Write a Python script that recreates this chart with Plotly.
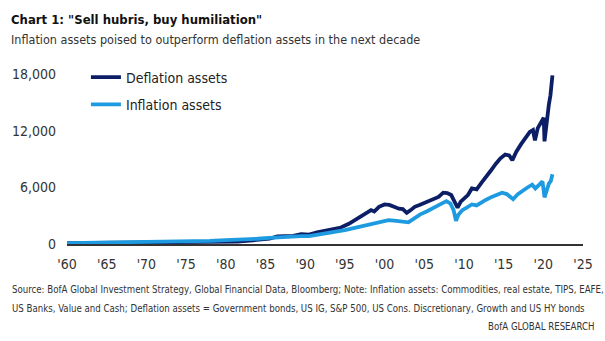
import plotly.graph_objects as go

# ---- data ----
defl_years = [1960.0, 1962, 1964, 1966, 1968, 1970, 1971.5, 1973, 1974.5, 1976, 1978, 1980, 1981.5,
              1983, 1984.5, 1985.5, 1986.5, 1987.5, 1988.5, 1989.5, 1990.5, 1991.5, 1992.5, 1993.5,
              1994.5, 1995.5, 1996.5, 1997.5, 1998.3, 1998.7, 1999.3, 2000.0, 2000.6, 2001.2, 2001.8,
              2002.3, 2002.8, 2003.3, 2003.8, 2004.4, 2005.0, 2005.6, 2006.2, 2006.8, 2007.4, 2007.9,
              2008.4, 2008.8, 2009.2, 2009.6, 2010.0, 2010.5, 2011.0, 2011.6, 2012.2, 2012.8, 2013.4,
              2014.0, 2014.6, 2015.2, 2015.7, 2016.1, 2016.6, 2017.2, 2017.8, 2018.3, 2018.7, 2018.95,
              2019.3, 2019.7, 2020.05, 2020.15, 2020.3, 2020.5, 2020.7, 2020.9, 2021.05, 2021.15]
defl_values = [100, 110, 130, 140, 160, 170, 230, 250, 180, 220, 230, 270, 260,
               360, 420, 560, 800, 830, 870, 1050, 1000, 1250, 1450, 1650,
               1750, 2150, 2650, 3150, 3600, 3450, 3950, 4200, 4150, 3950, 3750,
               3700, 3300, 3600, 3950, 4150, 4350, 4500, 4800, 5000, 5450, 5400,
               5200, 4600, 3850, 4500, 4800, 5200, 5900, 5800, 6500, 7100, 7800,
               8500, 9100, 9500, 9400, 8900, 9800, 10600, 11300, 11900, 12100, 11000,
               12300, 12800, 13400, 10900, 12000, 14000, 14800, 15800, 17000, 17900]

infl_years = [1960, 1964, 1968, 1972, 1975, 1978, 1980, 1982, 1984, 1985.5, 1987, 1988.5, 1989.5,
              1990.5, 1992, 1993.5, 1995, 1996.5, 1998, 1999.3, 2000.5, 2001.5, 2002.5, 2003,
              2003.8, 2004.5, 2005.3, 2006.2, 2007.0, 2007.8, 2008.3, 2008.7, 2009.0, 2009.3, 2009.8,
              2010.4, 2011.0, 2011.6, 2012.1, 2012.8, 2013.5, 2014.2, 2014.8, 2015.4, 2015.9, 2016.2,
              2016.8, 2017.4, 2018.0, 2018.6, 2019.0, 2019.5, 2019.9, 2020.15, 2020.4, 2020.7,
              2020.95, 2021.15]
infl_values = [100, 130, 170, 220, 250, 330, 420, 450, 560, 650, 740, 780, 840,
               830, 1000, 1250, 1480, 1750, 2050, 2300, 2530, 2450, 2380, 2300,
               2750, 3150, 3450, 3800, 4200, 4550, 4300, 3600, 2450, 3100, 3600,
               3900, 4200, 4100, 4400, 4700, 5000, 5300, 5450, 5300, 4950, 4750,
               5300, 5700, 6000, 6300, 5900, 6300, 6650, 4950, 5700, 6400,
               6700, 7400]

x_tick_vals = [1960, 1965, 1970, 1975, 1980, 1985, 1990, 1995, 2000, 2005, 2010, 2015, 2020, 2025]
x_tick_text = ["'60", "'65", "'70", "'75", "'80", "'85", "'90", "'95", "'00", "'05", "'10", "'15", "'20", "'25"]
y_tick_vals = [0, 6000, 12000, 18000]
y_tick_text = ["0", "6,000", "12,000", "18,000"]

title_text = 'Chart 1: "Sell hubris, buy humiliation"'
subtitle_text = "Inflation assets poised to outperform deflation assets in the next decade"
source_1 = ("Source: BofA Global Investment Strategy, Global Financial Data, Bloomberg; Note: Inflation assets: "
            "Commodities, real estate, TIPS, EAFE,")
source_2 = ("US Banks, Value and Cash; Deflation assets = Government bonds, US IG, S&P 500, US Cons. "
            "Discretionary, Growth and US HY bonds")
source_3 = "BofA GLOBAL RESEARCH"

NAVY = "#0c1f66"
LIGHT = "#1e9be0"
FONT = "DejaVu Sans Condensed, Liberation Sans Narrow, sans-serif"

W, H = 605, 341
L, R, T, B = 65, 22, 65.5, 97
PH = H - T - B
PW = W - L - R


def py(p):  # pixel y -> paper
    return (H - B - p) / PH


def px(p):
    return (p - L) / PW


fig = go.Figure()
fig.add_trace(go.Scatter(x=defl_years, y=defl_values, mode="lines", name="Deflation assets",
                         line=dict(color=NAVY, width=3.8), legendgroup="a"))
fig.add_trace(go.Scatter(x=infl_years, y=infl_values, mode="lines", name="Inflation assets",
                         line=dict(color=LIGHT, width=3.8), legendgroup="b"))

fig.update_layout(
    width=W, height=H,
    margin=dict(l=L, r=R, t=T, b=B),
    paper_bgcolor="white", plot_bgcolor="white",
    font=dict(family=FONT, color="#333333", size=14),
    showlegend=True,
    legend=dict(x=px(84), y=py(61), xanchor="left", yanchor="top",
                font=dict(size=14, color="#222222", family=FONT),
                tracegroupgap=6, itemwidth=30, bgcolor="rgba(0,0,0,0)"),
    xaxis=dict(range=[1960, 2025], tickvals=x_tick_vals, ticktext=x_tick_text,
               showgrid=False, zeroline=False, showline=True, linecolor="#333333", linewidth=2,
               ticks="", tickfont=dict(size=14, color="#333333"), ticklabelstandoff=6),
    yaxis=dict(range=[0, 18900], tickvals=y_tick_vals, ticktext=y_tick_text,
               showgrid=False, zeroline=False, showline=False, ticks="",
               tickfont=dict(size=14, color="#333333"), ticklabelstandoff=10),
    annotations=[
        dict(text="<b>" + title_text + "</b>", xref="paper", yref="paper", x=px(7), y=py(19),
             xanchor="left", yanchor="middle", showarrow=False,
             font=dict(size=13, color="#111111", family=FONT)),
        dict(text=subtitle_text, xref="paper", yref="paper", x=px(7), y=py(39),
             xanchor="left", yanchor="middle", showarrow=False,
             font=dict(size=12.5, color="#333333", family=FONT)),
        dict(text=source_1, xref="paper", yref="paper", x=px(8), y=py(290),
             xanchor="left", yanchor="middle", showarrow=False,
             font=dict(size=9.6, color="#333333", family=FONT)),
        dict(text=source_2, xref="paper", yref="paper", x=px(8), y=py(309),
             xanchor="left", yanchor="middle", showarrow=False,
             font=dict(size=9.6, color="#333333", family=FONT)),
        dict(text=source_3, xref="paper", yref="paper", x=px(597), y=py(327),
             xanchor="right", yanchor="middle", showarrow=False,
             font=dict(size=9.6, color="#333333", family=FONT)),
    ],
)

fig.write_html("out.html")
